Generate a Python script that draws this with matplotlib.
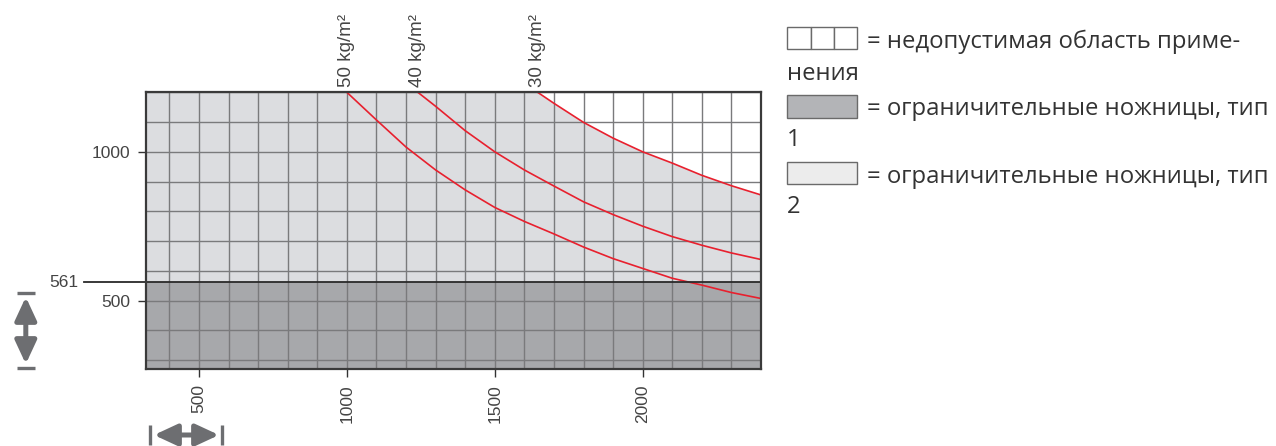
import matplotlib.pyplot as plt
from matplotlib.ticker import MultipleLocator, FixedLocator
from matplotlib.patches import Rectangle, FancyArrowPatch
from matplotlib.lines import Line2D

# x: roll width, y: value on the vertical scale
x_lim = (320, 2400)
y_lim = (270, 1200)
limit_561 = 561

# red curves (x, y)
c50_x = [1000, 1100, 1200, 1300, 1400, 1500, 1600, 1700, 1800, 1900, 2000, 2100, 2200, 2300, 2400]
c50_y = [1200, 1107, 1016, 939, 872, 813, 766, 724, 680, 641, 608, 575, 552, 527, 507]
c40_x = [1240, 1300, 1400, 1500, 1600, 1700, 1800, 1900, 2000, 2100, 2200, 2300, 2400]
c40_y = [1200, 1153, 1071, 1000, 939, 885, 832, 789, 750, 715, 686, 660, 638]
c30_x = [1645, 1700, 1800, 1900, 2000, 2100, 2200, 2300, 2400]
c30_y = [1200, 1163, 1099, 1046, 1000, 962, 921, 886, 855]
curve_labels = ["50 kg/m²", "40 kg/m²", "30 kg/m²"]

x_ticks = [500, 1000, 1500, 2000]
y_ticks = [500, 1000]

legend_texts = [
    ("= недопустимая область приме-", "нения"),
    ("= ограничительные ножницы, тип", "1"),
    ("= ограничительные ножницы, тип", "2"),
]

W, H = 1276, 446
fig = plt.figure(figsize=(W / 100, H / 100), dpi=100, facecolor='white')

ax_l, ax_r, ax_t, ax_b = 145.7, 761, 92.3, 369
ax = fig.add_axes([ax_l / W, 1 - ax_b / H, (ax_r - ax_l) / W, (ax_b - ax_t) / H])

light = '#dcdde0'
dark = '#a7a8ab'
grid_c = '#7a7a7c'
red = '#e8202e'
txt = '#444444'

ax.set_facecolor(light)
ax.fill_between(c30_x, c30_y, y_lim[1], color='white', lw=0, zorder=1)
ax.axhspan(y_lim[0], limit_561, color=dark, lw=0, zorder=1)

ax.set_xlim(*x_lim)
ax.set_ylim(*y_lim)

ax.xaxis.set_major_locator(FixedLocator(x_ticks))
ax.yaxis.set_major_locator(FixedLocator(y_ticks))
ax.xaxis.set_minor_locator(MultipleLocator(100))
ax.yaxis.set_minor_locator(MultipleLocator(100))
ax.grid(which='both', color=grid_c, lw=1.0, zorder=2)
ax.set_axisbelow(False)
ax.tick_params(which='minor', length=0)
ax.tick_params(which='major', length=6, width=1, color='#333333', labelcolor=txt,
               labelsize=12.5, pad=5)
for lab in ax.get_xticklabels():
    lab.set_rotation(90)
    lab.set_fontfamily('Liberation Sans')
for lab in ax.get_yticklabels():
    lab.set_fontfamily('Liberation Sans')

for s in ax.spines.values():
    s.set_color('#3a3a3a')
    s.set_linewidth(1.6)
    s.set_zorder(5)

for xs, ys in [(c50_x, c50_y), (c40_x, c40_y), (c30_x, c30_y)]:
    ax.plot(xs, ys, color=red, lw=1.2, zorder=4)

# labels above the start of each curve
for xs, lab in zip([c50_x, c40_x, c30_x], curve_labels):
    ax.annotate(lab, xy=(xs[0], 1), xycoords=ax.get_xaxis_transform(),
                xytext=(0, 4), textcoords='offset points', rotation=90,
                ha='center', va='bottom', fontsize=13.5, color=txt,
                family='Liberation Sans')

# 561 boundary line reaching out to the left
x0 = (84 - ax_l) / (ax_r - ax_l)
ax.plot([x0, 1], [limit_561, limit_561], transform=ax.get_yaxis_transform(),
        color='#2a2a2a', lw=1.3, clip_on=False, zorder=5)
ax.text(x0 - 6 / (ax_r - ax_l), limit_561, str(limit_561), transform=ax.get_yaxis_transform(),
        ha='right', va='center', fontsize=12.5, color=txt, family='Liberation Sans')

# dimension arrows
arr_c = '#6d6e71'
def fx(px):
    return px / W
def fy(py):
    return 1 - py / H

style = '<|-|>,head_length=14,head_width=6.5'
fig.add_artist(FancyArrowPatch((fx(25.8), fy(297)), (fx(25.8), fy(364)), transform=fig.transFigure,
                               arrowstyle=style, color=arr_c, lw=3.6, shrinkA=0, shrinkB=0,
                               mutation_scale=1))
for py in (293.3, 367.7):
    fig.add_artist(Line2D([fx(16.7), fx(35)], [fy(py), fy(py)], color=arr_c, lw=2.4,
                          solid_capstyle='butt'))

fig.add_artist(FancyArrowPatch((fx(154), fy(435)), (fx(219), fy(435)), transform=fig.transFigure,
                               arrowstyle=style, color=arr_c, lw=3.6, shrinkA=0, shrinkB=0,
                               mutation_scale=1))
for px in (150, 221.7):
    fig.add_artist(Line2D([fx(px), fx(px)], [fy(425), fy(445)], color=arr_c, lw=2.4,
                          solid_capstyle='butt'))

# legend
bx, bw, bh = 787.3, 70, 22.6
box_tops = [26.7, 95, 161.7]
base1 = [48, 115, 182.7]
base2 = [80, 146, 213]
for i, (top, (l1, l2)) in enumerate(zip(box_tops, legend_texts)):
    if i == 0:
        for k in range(3):
            fig.add_artist(Rectangle((fx(bx + k * bw / 3), fy(top + bh)), bw / 3 / W, bh / H,
                                     transform=fig.transFigure, facecolor='white',
                                     edgecolor='#6a6a6a', lw=1))
    else:
        fc = '#b3b4b7' if i == 1 else '#ececec'
        fig.add_artist(Rectangle((fx(bx), fy(top + bh)), bw / W, bh / H,
                                 transform=fig.transFigure, facecolor=fc,
                                 edgecolor='#6a6a6a', lw=1))
    fig.text(fx(866.7), fy(base1[i]), l1, ha='left', va='baseline', fontsize=17.2,
             color='#333333', family='Open Sans')
    fig.text(fx(bx), fy(base2[i]), l2, ha='left', va='baseline', fontsize=17.2,
             color='#333333', family='Open Sans')

fig.savefig('out.png', dpi=100, facecolor='white')
